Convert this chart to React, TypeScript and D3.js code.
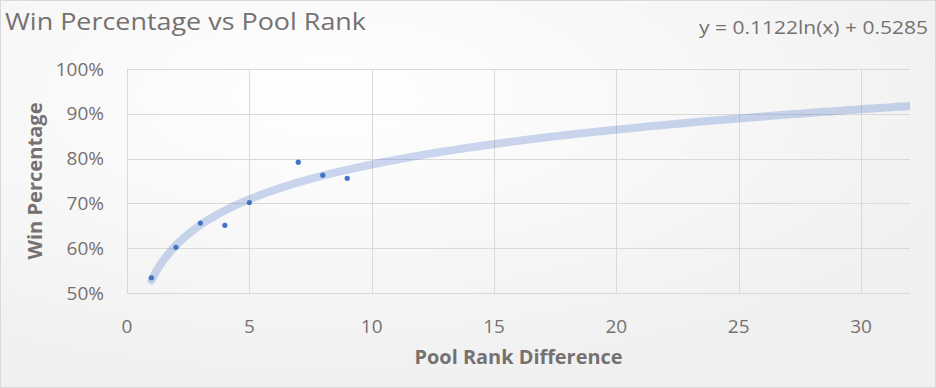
import { useEffect, useRef } from "react";
import * as d3 from "d3";

// data
const rankDiff = [1, 2, 3, 4, 5, 7, 8, 9];
const winPct = [0.534, 0.602, 0.656, 0.651, 0.702, 0.792, 0.763, 0.756];
const xTicks = [0, 5, 10, 15, 20, 25, 30];
const yTicks = [0.5, 0.6, 0.7, 0.8, 0.9, 1.0];
// log trendline shown on the chart: y = a*ln(x) + b
const trendA = 0.1122;
const trendB = 0.5285;
const trendRange = [1, 32];

const W = 936;
const H = 388;
const textCol = "#767171";
const gridCol = "#d9d9d9";
const font = "'Open Sans', 'Liberation Sans', sans-serif";

export default function App() {
  const ref = useRef<SVGSVGElement>(null);

  useEffect(() => {
    const svg = d3.select(ref.current);
    svg.selectAll("*").remove();

    const margin = { top: 69, right: 26, bottom: 95, left: 127 };
    const width = W - margin.left - margin.right;
    const height = H - margin.top - margin.bottom;

    const defs = svg.append("defs");
    const grad = defs.append("radialGradient")
      .attr("id", "bg")
      .attr("cx", "35%").attr("cy", "25%").attr("r", "75%");
    grad.append("stop").attr("offset", "0%").attr("stop-color", "#ffffff");
    grad.append("stop").attr("offset", "100%").attr("stop-color", "#f0f0f0");
    defs.append("clipPath").attr("id", "plotClip")
      .append("rect").attr("width", width).attr("height", height);

    svg.append("rect")
      .attr("x", 0.5).attr("y", 0.5)
      .attr("width", W - 1).attr("height", H - 1)
      .attr("fill", "url(#bg)")
      .attr("stroke", gridCol);

    const x = d3.scaleLinear().domain([0, 32]).range([0, width]);
    const y = d3.scaleLinear().domain([0.5, 1.0]).range([height, 0]);

    const g = svg.append("g").attr("transform", `translate(${margin.left},${margin.top})`);

    // gridlines
    g.selectAll(".hgrid").data(yTicks).join("line")
      .attr("x1", 0).attr("x2", width)
      .attr("y1", (d) => Math.round(y(d)) + 0.5).attr("y2", (d) => Math.round(y(d)) + 0.5)
      .attr("stroke", gridCol);
    g.selectAll(".vgrid").data(xTicks).join("line")
      .attr("y1", 0).attr("y2", height)
      .attr("x1", (d) => Math.round(x(d)) + 0.5).attr("x2", (d) => Math.round(x(d)) + 0.5)
      .attr("stroke", gridCol);

    // tick labels
    g.selectAll(".ylab").data(yTicks).join("text")
      .attr("x", -23).attr("y", (d) => y(d))
      .attr("dy", "0.35em")
      .attr("text-anchor", "end")
      .attr("font-family", font).attr("font-size", 19)
      .attr("fill", textCol)
      .text((d) => d3.format(".0%")(d));
    g.selectAll(".xlab").data(xTicks).join("text")
      .attr("x", (d) => x(d)).attr("y", height + 40)
      .attr("text-anchor", "middle")
      .attr("font-family", font).attr("font-size", 19)
      .attr("fill", textCol)
      .text((d) => d);

    // trendline
    const trendX = d3.range(trendRange[0], trendRange[1] + 0.001, 0.25);
    const line = d3.line<number>()
      .x((d) => x(d))
      .y((d) => y(trendA * Math.log(d) + trendB))
      .curve(d3.curveMonotoneX);
    g.append("g").attr("clip-path", "url(#plotClip)")
      .append("path")
      .datum(trendX)
      .attr("d", line)
      .attr("fill", "none")
      .attr("stroke", "#4472c4")
      .attr("stroke-opacity", 0.28)
      .attr("stroke-width", 8)
      .attr("stroke-linecap", "round");

    // points
    g.selectAll(".pt").data(rankDiff).join("circle")
      .attr("cx", (d) => x(d))
      .attr("cy", (d, i) => y(winPct[i]))
      .attr("r", 2.6)
      .attr("fill", "#4472c4");

    // titles
    svg.append("text")
      .attr("x", 5).attr("y", 30)
      .attr("font-family", font).attr("font-size", 24)
      .attr("fill", textCol)
      .attr("textLength", 361).attr("lengthAdjust", "spacingAndGlyphs")
      .text("Win Percentage vs Pool Rank");
    svg.append("text")
      .attr("x", 928).attr("y", 34)
      .attr("text-anchor", "end")
      .attr("font-family", font).attr("font-size", 19)
      .attr("fill", textCol)
      .attr("textLength", 229).attr("lengthAdjust", "spacingAndGlyphs")
      .text(`y = ${trendA}ln(x) + ${trendB}`);
    svg.append("text")
      .attr("x", margin.left + width / 2).attr("y", 364)
      .attr("text-anchor", "middle")
      .attr("font-family", font).attr("font-size", 19).attr("font-weight", "bold")
      .attr("fill", textCol)
      .attr("textLength", 208).attr("lengthAdjust", "spacingAndGlyphs")
      .text("Pool Rank Difference");
    svg.append("text")
      .attr("transform", `translate(42,${margin.top + height / 2}) rotate(-90)`)
      .attr("text-anchor", "middle")
      .attr("font-family", font).attr("font-size", 19).attr("font-weight", "bold")
      .attr("fill", textCol)
      .attr("textLength", 157).attr("lengthAdjust", "spacingAndGlyphs")
      .text("Win Percentage");
  }, []);

  return (
    <svg
      ref={ref}
      width={W}
      height={H}
      style={{ position: "absolute", left: 0, top: 0 }}
    />
  );
}
